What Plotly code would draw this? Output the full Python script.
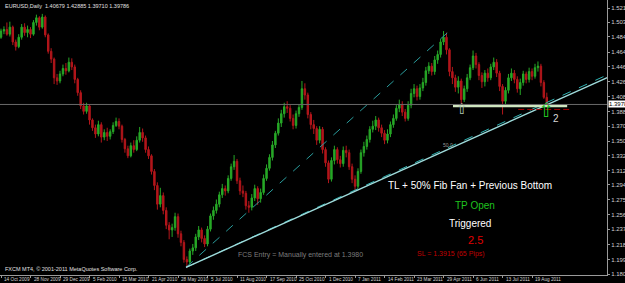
import plotly.graph_objects as go

# ---- data (each candle ~3 daily bars, EURUSD Oct 2009 - Sep 2011) ----
opens = [
1.484,1.492,1.494,1.488,1.497,1.478,1.472,1.484,1.497,1.490,
1.494,1.488,1.503,1.509,1.497,1.510,1.487,1.466,1.456,1.432,
1.428,1.437,1.444,1.441,1.452,1.446,1.430,1.413,1.396,1.389,
1.396,1.378,1.368,1.360,1.372,1.356,1.362,1.357,1.363,1.371,
1.376,1.370,1.353,1.341,1.332,1.345,1.340,1.352,1.362,1.355,
1.340,1.332,1.312,1.294,1.270,1.281,1.262,1.243,1.237,1.240,
1.254,1.232,1.221,1.199,1.196,1.210,1.214,1.228,1.237,1.226,
1.219,1.238,1.255,1.262,1.270,1.282,1.290,1.287,1.303,1.318,
1.325,1.300,1.287,1.284,1.268,1.266,1.278,1.290,1.277,1.285,
1.303,1.316,1.330,1.346,1.361,1.374,1.386,1.395,1.393,1.380,
1.371,1.386,1.394,1.418,1.410,1.385,1.372,1.367,1.352,1.366,
1.340,1.323,1.302,1.326,1.340,1.327,1.322,1.339,1.336,1.318,
1.302,1.293,1.312,1.336,1.344,1.353,1.366,1.370,1.378,1.368,
1.361,1.352,1.360,1.372,1.380,1.393,1.398,1.388,1.380,1.397,
1.412,1.418,1.408,1.419,1.426,1.441,1.447,1.440,1.455,1.462,
1.478,1.484,1.468,1.440,1.432,1.420,1.428,1.404,1.418,1.432,
1.445,1.460,1.449,1.435,1.427,1.438,1.432,1.446,1.452,1.438,
1.421,1.402,1.416,1.432,1.438,1.430,1.418,1.426,1.437,1.430,
1.440,1.434,1.445,1.447,1.426,1.407]
closes = [
1.492,1.494,1.488,1.497,1.478,1.472,1.484,1.497,1.490,1.494,
1.488,1.503,1.509,1.497,1.510,1.487,1.466,1.456,1.432,1.428,
1.437,1.444,1.441,1.452,1.446,1.430,1.413,1.396,1.389,1.396,
1.378,1.368,1.360,1.372,1.356,1.362,1.357,1.363,1.371,1.376,
1.370,1.353,1.341,1.332,1.345,1.340,1.352,1.362,1.355,1.340,
1.332,1.312,1.294,1.270,1.281,1.262,1.243,1.237,1.240,1.254,
1.232,1.221,1.199,1.196,1.210,1.214,1.228,1.237,1.226,1.219,
1.238,1.255,1.262,1.270,1.282,1.290,1.287,1.303,1.318,1.325,
1.300,1.287,1.284,1.268,1.266,1.278,1.290,1.277,1.285,1.303,
1.316,1.330,1.346,1.361,1.374,1.386,1.395,1.393,1.380,1.371,
1.386,1.394,1.418,1.410,1.385,1.372,1.367,1.352,1.366,1.340,
1.323,1.302,1.326,1.340,1.327,1.322,1.339,1.336,1.318,1.302,
1.293,1.312,1.336,1.344,1.353,1.366,1.370,1.378,1.368,1.361,
1.352,1.360,1.372,1.380,1.393,1.398,1.388,1.380,1.397,1.412,
1.418,1.408,1.419,1.426,1.441,1.447,1.440,1.455,1.462,1.478,
1.484,1.468,1.440,1.432,1.420,1.428,1.404,1.418,1.432,1.445,
1.460,1.449,1.435,1.427,1.438,1.432,1.446,1.452,1.438,1.421,
1.402,1.416,1.432,1.438,1.430,1.418,1.426,1.437,1.430,1.440,
1.434,1.445,1.447,1.426,1.407,1.398]
highs = [
1.495,1.498,1.503,1.504,1.499,1.481,1.488,1.501,1.502,1.499,
1.497,1.506,1.513,1.511,1.514,1.512,1.489,1.470,1.458,1.437,
1.441,1.449,1.451,1.458,1.457,1.449,1.432,1.416,1.400,1.400,
1.398,1.380,1.372,1.377,1.375,1.366,1.368,1.366,1.375,1.381,
1.380,1.372,1.355,1.345,1.349,1.352,1.357,1.369,1.367,1.358,
1.344,1.334,1.315,1.298,1.291,1.285,1.266,1.247,1.245,1.259,
1.258,1.236,1.224,1.203,1.213,1.219,1.232,1.242,1.240,1.230,
1.242,1.258,1.267,1.276,1.286,1.296,1.294,1.307,1.322,1.333,
1.328,1.304,1.294,1.287,1.274,1.283,1.295,1.293,1.290,1.308,
1.321,1.334,1.351,1.364,1.380,1.391,1.400,1.402,1.397,1.385,
1.390,1.398,1.428,1.425,1.413,1.388,1.378,1.370,1.370,1.369,
1.343,1.326,1.330,1.345,1.343,1.332,1.344,1.345,1.340,1.322,
1.307,1.316,1.340,1.350,1.358,1.370,1.377,1.383,1.381,1.372,
1.365,1.366,1.376,1.385,1.397,1.404,1.402,1.392,1.402,1.418,
1.424,1.422,1.424,1.432,1.446,1.452,1.451,1.460,1.467,1.482,
1.492,1.490,1.470,1.446,1.436,1.434,1.431,1.422,1.437,1.449,
1.467,1.464,1.452,1.439,1.442,1.444,1.450,1.458,1.456,1.441,
1.424,1.420,1.437,1.444,1.442,1.434,1.431,1.441,1.440,1.445,
1.444,1.450,1.453,1.450,1.429,1.413]
lows = [
1.482,1.488,1.486,1.485,1.474,1.467,1.470,1.481,1.486,1.484,
1.483,1.486,1.499,1.493,1.495,1.484,1.463,1.451,1.424,1.423,
1.425,1.434,1.436,1.439,1.442,1.425,1.409,1.392,1.385,1.386,
1.372,1.364,1.355,1.357,1.349,1.352,1.351,1.353,1.360,1.369,
1.366,1.349,1.336,1.329,1.330,1.336,1.338,1.349,1.350,1.336,
1.328,1.308,1.288,1.263,1.266,1.257,1.238,1.225,1.228,1.236,
1.227,1.216,1.195,1.188,1.193,1.205,1.210,1.224,1.221,1.215,
1.216,1.235,1.250,1.258,1.266,1.278,1.281,1.284,1.300,1.314,
1.296,1.282,1.279,1.263,1.259,1.262,1.274,1.269,1.272,1.282,
1.300,1.313,1.326,1.342,1.358,1.369,1.381,1.387,1.376,1.366,
1.367,1.382,1.391,1.404,1.380,1.366,1.360,1.346,1.348,1.335,
1.318,1.297,1.299,1.321,1.322,1.317,1.318,1.330,1.314,1.297,
1.287,1.290,1.309,1.331,1.340,1.349,1.362,1.365,1.363,1.356,
1.347,1.348,1.356,1.368,1.377,1.388,1.383,1.376,1.377,1.393,
1.407,1.403,1.404,1.415,1.422,1.437,1.435,1.436,1.450,1.458,
1.474,1.462,1.434,1.424,1.414,1.412,1.397,1.401,1.414,1.429,
1.442,1.444,1.429,1.419,1.421,1.427,1.429,1.442,1.433,1.415,
1.385,1.398,1.412,1.428,1.425,1.413,1.410,1.422,1.425,1.426,
1.429,1.431,1.440,1.421,1.405,1.396]
candle_idx = list(range(len(closes)))

date_tick_pos = [0, 10, 20, 30, 40, 50, 60, 70, 80, 90, 100, 110, 120, 130, 140, 150, 160, 170, 180]
date_tick_labels = ["14 Oct 2009", "28 Nov 2009", "29 Dec 2009", "5 Feb 2010", "15 Mar 2010",
                    "21 Apr 2010", "28 May 2010", "5 Jul 2010", "11 Aug 2010", "17 Sep 2010",
                    "25 Oct 2010", "1 Dec 2010", "7 Jan 2011", "14 Feb 2011", "23 Mar 2011",
                    "29 Apr 2011", "6 Jun 2011", "13 Jul 2011", "19 Aug 2011"]
price_ticks = [1.52150, 1.50320, 1.48480, 1.46470, 1.44630, 1.42680, 1.40820, 1.38880, 1.37010,
               1.35090, 1.33220, 1.31290, 1.29470, 1.27590, 1.25630, 1.23790, 1.21830, 1.19900, 1.18040]
current_price = 1.39786

# drawing objects (candle index, price)
trendline_x = [62.7, 205.6]
trendline_y = [1.1890, 1.4325]
fan50_x = [62.7, 205.6]
fan50_y = [1.1890, 1.4360]
fan_steep_x = [62.7, 151.5]
fan_steep_y = [1.1890, 1.4905]
prev_bottom_x = [153.2, 191.9]
prev_bottom_y = [1.3959, 1.3959]
sl_x = [175.3, 192.9]
sl_y = [1.3915, 1.3915]
arrow_x = [156.3, 184.7]
arrow_y = [1.3900, 1.3878]

assert len(opens) == len(closes) == len(highs) == len(lows)

GREEN = "#27a827"
RED = "#b3161b"
AX = "#9a9a9a"
FONT = "Liberation Sans"

fig = go.Figure()
fig.add_trace(go.Candlestick(
    x=candle_idx, open=opens, high=highs, low=lows, close=closes,
    increasing=dict(line=dict(color=GREEN, width=1), fillcolor=GREEN),
    decreasing=dict(line=dict(color=RED, width=1), fillcolor=RED),
    whiskerwidth=0, showlegend=False, hoverinfo="skip"))

# current price line
fig.add_hline(y=current_price, line=dict(color="#6a6a6a", width=1))

fig.add_trace(go.Scatter(x=fan_steep_x, y=fan_steep_y, mode="lines",
                         line=dict(color="#2a9c9c", width=1, dash="dash"), hoverinfo="skip", showlegend=False))
fig.add_trace(go.Scatter(x=fan50_x, y=fan50_y, mode="lines",
                         line=dict(color="#2fb3b3", width=1, dash="dash"), hoverinfo="skip", showlegend=False))
fig.add_trace(go.Scatter(x=trendline_x, y=trendline_y, mode="lines",
                         line=dict(color="#9fdcdc", width=1.4), hoverinfo="skip", showlegend=False))
fig.add_trace(go.Scatter(x=prev_bottom_x, y=prev_bottom_y, mode="lines",
                         line=dict(color="#cfe6bf", width=2.5), hoverinfo="skip", showlegend=False))
fig.add_trace(go.Scatter(x=sl_x, y=sl_y, mode="lines",
                         line=dict(color="#a80000", width=1, dash="6px,3px"), hoverinfo="skip", showlegend=False))
# up arrows (hollow block arrows as glyphs)
fig.add_trace(go.Scatter(x=arrow_x, y=arrow_y, mode="text", text=["⇧", "⇧"],
                         textposition="middle center",
                         textfont=dict(family="DejaVu Sans", size=[15, 19], color=["#b0c8b0", "#22c522"]),
                         hoverinfo="skip", showlegend=False))

annotations = []
# x date labels
for p, lab in zip(date_tick_pos, date_tick_labels):
    annotations.append(dict(x=p, y=0, xref="x", yref="paper", text=lab, showarrow=False,
                            xanchor="left", yanchor="top", xshift=1, yshift=0,
                            font=dict(family=FONT, size=4.7, color="#d0d0d0")))
# current price box
annotations.append(dict(x=1, y=current_price, xref="paper", yref="y", text="1.39786", showarrow=False,
                        xanchor="left", yanchor="middle", xshift=1, bgcolor="#ffffff",
                        font=dict(family=FONT, size=6, color="#000000"), borderpad=0))
annotations.append(dict(x=0.005, y=1, xref="paper", yref="paper",
                        text="EURUSD,Daily  1.40679 1.42885 1.39710 1.39786", showarrow=False,
                        xanchor="left", yanchor="top", yshift=-1,
                        font=dict(family=FONT, size=5.5, color="#e0e0e0")))
annotations.append(dict(x=0.005, y=0, xref="paper", yref="paper",
                        text="FXCM MT4, © 2001-2011 MetaQuotes Software Corp.", showarrow=False,
                        xanchor="left", yanchor="bottom", yshift=1,
                        font=dict(family=FONT, size=5.5, color="#e0e0e0")))
texts = [
    ("TL + 50% Fib Fan + Previous Bottom", 470, 185, 10, "#ffffff"),
    ("TP Open", 475, 205, 10, "#1fc21f"),
    ("Triggered", 470, 223, 10, "#ffffff"),
    ("2.5", 475, 240, 11, "#e00000"),
    ("SL = 1.3915 (65 Pips)", 451, 254, 7, "#c00000"),
    ("FCS Entry = Manually entered at 1.3980", 300, 255, 7, "#7c7c7c"),
    ("50.0", 448, 145, 5, "#9a9a9a"),
    ("2", 556, 118, 10, "#d8d8d8"),
]
for t, px, py, sz, col in texts:
    annotations.append(dict(x=px / 607, y=1 - py / 275, xref="paper", yref="paper", text=t,
                            showarrow=False, xanchor="center", yanchor="middle",
                            font=dict(family=FONT, size=sz, color=col)))

fig.update_layout(
    width=625, height=283,
    margin=dict(l=0, r=18, t=0, b=8, autoexpand=False),
    paper_bgcolor="#000000", plot_bgcolor="#000000",
    showlegend=False,
    annotations=annotations,
    xaxis=dict(range=[-0.34, 205.4], showgrid=False, zeroline=False, rangeslider=dict(visible=False),
               tickvals=date_tick_pos, ticks="outside", ticklen=2, tickcolor=AX, showticklabels=False,
               showline=True, linecolor=AX, linewidth=1, mirror=True, fixedrange=True),
    yaxis=dict(range=[1.1792, 1.5318], side="right", showgrid=False, zeroline=False,
               tickvals=price_ticks, ticktext=[f"{v:.5f}" for v in price_ticks],
               ticks="outside", ticklen=2, tickcolor=AX,
               tickfont=dict(family=FONT, size=6, color="#d0d0d0"),
               showline=True, linecolor=AX, linewidth=1, mirror=True, automargin=False, fixedrange=True),
)

fig.write_html("out.html")
